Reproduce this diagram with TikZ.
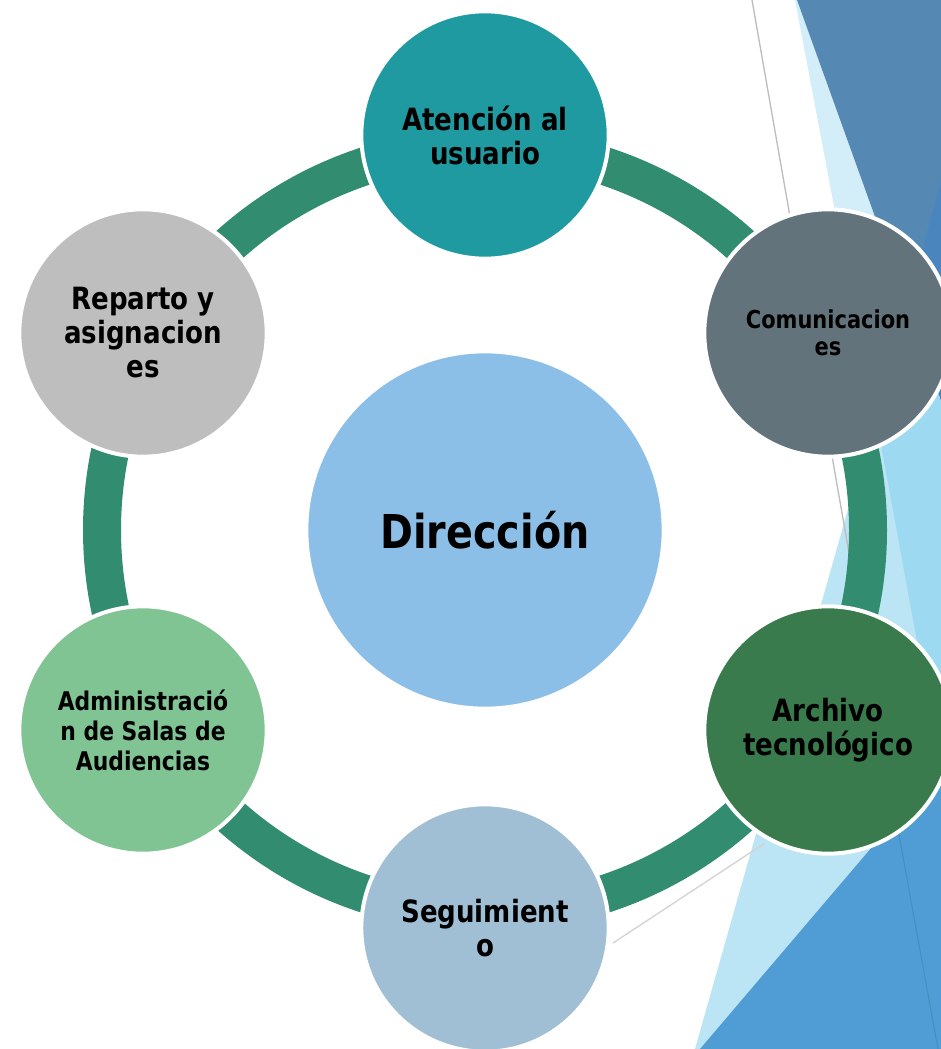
\documentclass[tikz,border=0pt]{standalone}
\usepackage{fontspec}
\setmainfont{DejaVu Sans}[FakeStretch=0.85]
\definecolor{ringc}{HTML}{318C70}
\definecolor{cAten}{HTML}{1F9AA0}
\definecolor{cComu}{HTML}{63737B}
\definecolor{cArch}{HTML}{3A7B4E}
\definecolor{cSegu}{HTML}{A0BFD5}
\definecolor{cAdmi}{HTML}{80C493}
\definecolor{cRepa}{HTML}{BEBEBE}
\definecolor{cDire}{HTML}{8CBFE7}
\definecolor{bgDark}{HTML}{5589B4}
\definecolor{bgDarker}{HTML}{4A86BD}
\definecolor{bgStrip}{HTML}{D3EEF8}
\definecolor{bgLight}{HTML}{BBE5F4}
\definecolor{bgMid}{HTML}{9DDAF2}
\definecolor{bgBlue}{HTML}{4F9DD4}
\definecolor{lineGray}{HTML}{BDBDBD}
\definecolor{lineGray2}{HTML}{D3D3D3}
\tikzset{
  sat/.style={circle, draw=white, line width=3pt, minimum size=185.5pt, inner sep=0pt,
    align=center, text=black, font=\bfseries\fontsize{23}{25.5}\selectfont},
}
\begin{document}
\begin{tikzpicture}[x=0.75pt,y=-0.75pt]
\useasboundingbox (0,0) rectangle (941,1049);
\clip (0,0) rectangle (941,1049);
% background decoration
\fill[bgStrip] (795,0) -- (941,0) -- (941,772) -- cycle;
\fill[bgLight] (941,181) -- (695,1049) -- (941,1049) -- cycle;
\fill[bgMid] (941,181) -- (876,418) -- (941,772) -- cycle;
\fill[bgDark] (797,0) -- (941,0) -- (941,400) -- cycle;
\fill[bgDarker] (941,181) -- (907,306) -- (941,400) -- cycle;
\fill[bgBlue] (941,766) -- (700,1049) -- (941,1049) -- cycle;
\draw[lineGray, line width=1pt] (752,0) -- (852,570);
\draw[bgBlue!85!black, line width=0.8pt, opacity=0.6] (899,835) -- (938,1049);
\draw[lineGray2, line width=1pt] (613,943) -- (765,843);
% ring
\node[circle, draw=ringc, line width=28.5pt, minimum size=574.5pt, inner sep=0pt] (ring) at (485,530) {};
% centre
\node[circle, fill=cDire, draw=white, line width=3pt, minimum size=268pt, inner sep=0pt,
  font=\bfseries\fontsize{35}{40}\selectfont] (dir) at (485,530) {Dirección};
% satellites
\node[sat, fill=cAten] (aten) at (485,135) {Atención al\\usuario};
\node[sat, fill=cComu, font=\bfseries\fontsize{18.5}{20.5}\selectfont] (comu) at (828,333) {Comunicacion\\es};
\node[sat, fill=cArch] (arch) at (828,730) {Archivo\\tecnológico};
\node[sat, fill=cSegu] (segu) at (485,928) {Seguimient\\o};
\node[sat, fill=cAdmi, font=\bfseries\fontsize{19.3}{22.5}\selectfont] (admi) at (143,730) {Administració\\n de Salas de\\Audiencias};
\node[sat, fill=cRepa] (repa) at (143,333) {Reparto y\\asignacion\\es};
\end{tikzpicture}
\end{document}
